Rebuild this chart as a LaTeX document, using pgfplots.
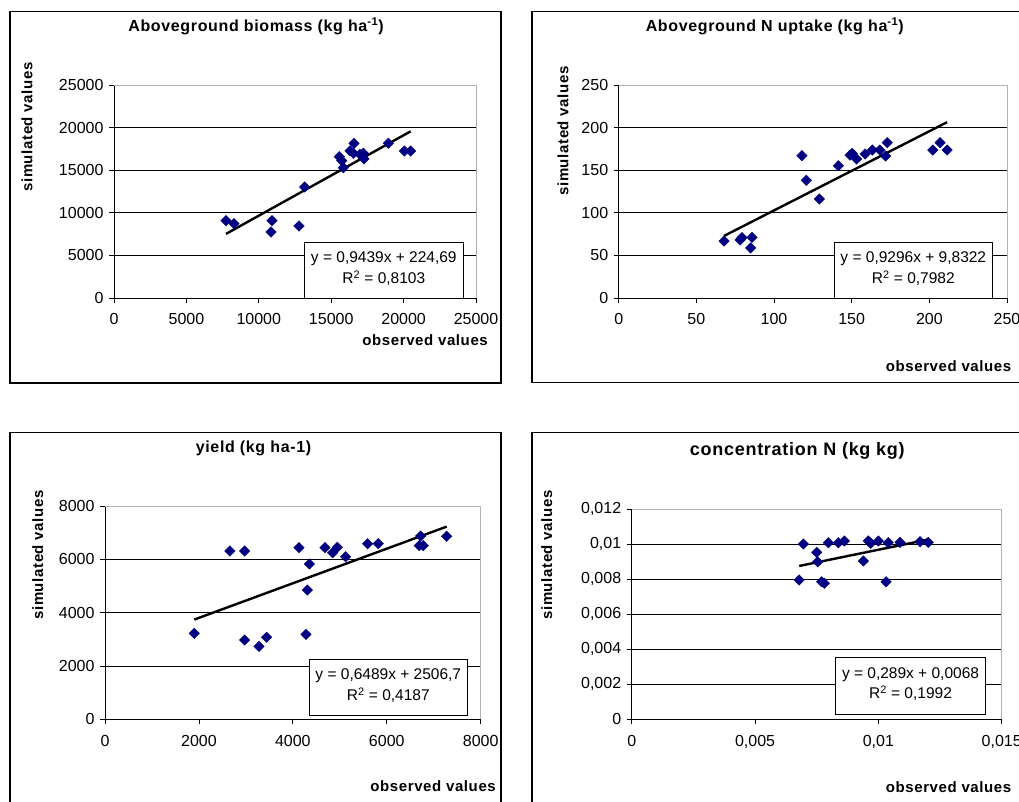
\documentclass[border=0pt]{standalone}
\usepackage{fontspec}
\setmainfont{Liberation Sans}
\newfontfamily\lblfont[LetterSpace=4]{Liberation Sans}
\usepackage{pgfplots}
\pgfplotsset{compat=1.18}
\definecolor{navy}{RGB}{0,0,128}

\newcommand\lbl{\fontsize{15}{15}\selectfont\lblfont\bfseries}
\newcommand\ttl{\fontsize{16}{16}\selectfont\lblfont\bfseries}
\newcommand\eqf{\fontsize{15.5}{15.5}\selectfont}

\pgfplotsset{
  panel/.style={
    scale only axis, anchor=south west,
    axis x line*=bottom, axis y line*=left,
    axis line style={line width=1pt,-},
    tick align=outside, major tick length=5pt,
    tick style={black,line width=0.8pt},
    ymajorgrids, grid style={black,line width=0.8pt},
    scaled ticks=false,
    tick label style={font=\fontsize{16}{16}\selectfont},
    xticklabel style={yshift=-7pt},
    yticklabel style={xshift=-2pt},
    /pgf/number format/assume math mode=true,
    /pgf/number format/1000 sep={},
    clip=false,
  },
  dots/.style={only marks, mark=square*, mark size=3.7pt, color=navy, mark options={rotate=45}},
  fit/.style={no marks, black, line width=2.4pt},
}

\begin{document}
\begin{tikzpicture}
\useasboundingbox (0pt,0pt) rectangle (1019pt,-801pt);
\fill[white] (0pt,0pt) rectangle (1019pt,-801pt);
\clip (0pt,0pt) rectangle (1019pt,-801pt);

% panel frames
\draw[line width=1.2pt] (10pt,-11.7pt) rectangle (501pt,-383pt);
\draw[line width=1.2pt] (532pt,-11.7pt) rectangle (1040pt,-382.7pt);
\draw[line width=1.2pt] (10pt,-432.7pt) rectangle (501pt,-820pt);
\draw[line width=1.2pt] (532pt,-432.7pt) rectangle (1040pt,-820pt);

% aboveground biomass
\begin{axis}[panel, at={(114pt,-298pt)}, width=362pt, height=213pt,
  xmin=0, xmax=25000, ymin=0, ymax=25000,
  xtick={0,5000,...,25000}, ytick={0,5000,...,25000}]
\draw[gray!60,line width=1pt] (rel axis cs:0,1) -- (rel axis cs:1,1) -- (rel axis cs:1,0);
\addplot[dots] coordinates {
  (7735,9075) (8287,8725) (10842,7748) (10911,9075) (12776,8453)
  (13170,13031) (15561,16590) (15725,16120) (15838,15300) (16298,17258)
  (16528,16990) (16574,18160) (16990,16850) (17218,16990) (17265,16320)
  (18945,18160) (20050,17258) (20490,17258)
};
\addplot[fit] coordinates {(7735,7526) (20490,19565)};
\end{axis}

% aboveground N uptake
\begin{axis}[panel, at={(618.7pt,-298pt)}, width=388.3pt, height=213pt,
  xmin=0, xmax=250, ymin=0, ymax=250,
  xtick={0,50,...,250}, ytick={0,50,...,250}]
\draw[gray!60,line width=1pt] (rel axis cs:0,1) -- (rel axis cs:1,1) -- (rel axis cs:1,0);
\addplot[dots] coordinates {
  (67.8,66.9) (78.1,68.1) (79.4,70.8) (85.8,71.2) (85.0,58.7)
  (118.0,167.0) (120.8,138.1) (129.2,116.2) (141.4,155.3) (148.9,167.8)
  (150.4,169.8) (153.2,163.1) (158.6,169.0) (163.3,173.7) (168.2,173.7)
  (172.9,182.3) (171.9,166.7) (202.2,173.7) (206.9,182.3) (211.4,173.7)
};
\addplot[fit] coordinates {(67.8,72.86) (211.4,206.35)};
\end{axis}

% yield
\begin{axis}[panel, at={(105pt,-719.3pt)}, width=375.7pt, height=213.3pt,
  xmin=0, xmax=8000, ymin=0, ymax=8000,
  xtick={0,2000,...,8000}, ytick={0,2000,...,8000}]
\draw[gray!60,line width=1pt] (rel axis cs:0,1) -- (rel axis cs:1,1) -- (rel axis cs:1,0);
\addplot[dots] coordinates {
  (1901,3226) (2661,6313) (2974,6313) (2974,2975) (3279,2738)
  (3442,3076) (4130,6437) (4350,5825) (4307,4850) (4279,3188)
  (4684,6437) (4848,6249) (4946,6452) (5124,6099) (5593,6587)
  (5819,6587) (6692,6512) (6777,6512) (6721,6876) (7275,6864)
};
\addplot[fit] coordinates {(1901,3740.3) (7275,7227.4)};
\end{axis}

% concentration N
\begin{axis}[panel, at={(631.7pt,-719.3pt)}, width=370pt, height=210pt,
  xmin=0, xmax=0.015, ymin=0, ymax=0.012,
  xtick={0,0.005,0.01,0.015}, ytick={0,0.002,0.004,0.006,0.008,0.01,0.012},
  /pgf/number format/.cd, use comma, fixed, precision=3]
\draw[gray!60,line width=1pt] (rel axis cs:0,1) -- (rel axis cs:1,1) -- (rel axis cs:1,0);
\addplot[dots] coordinates {
  (0.00679,0.00796) (0.00696,0.01002) (0.00750,0.00954) (0.00754,0.00900)
  (0.00770,0.00786) (0.00781,0.00777) (0.00797,0.01009) (0.00838,0.01009)
  (0.00862,0.01019) (0.00939,0.00905) (0.00959,0.01019) (0.00969,0.01006)
  (0.01000,0.01019) (0.01031,0.00786) (0.01040,0.01009) (0.01088,0.01011)
  (0.01169,0.01015) (0.01202,0.01011)
};
\addplot[fit] coordinates {(0.00679,0.008762) (0.01202,0.010274)};
\end{axis}

% titles
\node[anchor=base] at (256pt,-31.3pt) {\ttl Aboveground biomass (kg ha\textsuperscript{-1})};
\node[anchor=base] at (774.7pt,-31.3pt) {\ttl Aboveground N uptake (kg ha\textsuperscript{-1})};
\node[anchor=base] at (253.5pt,-452pt) {\ttl yield (kg ha-1)};
\node[anchor=base] at (797.3pt,-455pt) {\fontsize{18}{18}\selectfont\lblfont\bfseries concentration N (kg kg)};

% axis labels
\node[rotate=90] at (27pt,-127pt) {\lbl simulated values};
\node[rotate=90] at (563pt,-131pt) {\lbl simulated values};
\node[rotate=90] at (37.7pt,-555pt) {\lbl simulated values};
\node[rotate=90] at (546.7pt,-555pt) {\lbl simulated values};
\node[anchor=base east, inner sep=0pt] at (488pt,-345.5pt) {\lbl observed values};
\node[anchor=base west, inner sep=0pt] at (885.7pt,-371pt) {\lbl observed values};
\node[anchor=base east, inner sep=0pt] at (496pt,-791pt) {\lbl observed values};
\node[anchor=base west, inner sep=0pt] at (885.7pt,-792pt) {\lbl observed values};

% regression boxes
\draw[fill=white,line width=0.9pt] (304.3pt,-242.3pt) rectangle (463.3pt,-298pt);
\node[anchor=base] at (383.8pt,-262.2pt) {\eqf y = 0,9439x + 224,69};
\node[anchor=base] at (383.8pt,-283.8pt) {\eqf R\textsuperscript{2} = 0,8103};
\draw[fill=white,line width=0.9pt] (834.3pt,-242.3pt) rectangle (992.3pt,-298pt);
\node[anchor=base] at (913.3pt,-262.2pt) {\eqf y = 0,9296x + 9,8322};
\node[anchor=base] at (913.3pt,-283.8pt) {\eqf R\textsuperscript{2} = 0,7982};
\draw[fill=white,line width=0.9pt] (309.3pt,-659pt) rectangle (467.3pt,-715.3pt);
\node[anchor=base] at (388.3pt,-679.5pt) {\eqf y = 0,6489x + 2506,7};
\node[anchor=base] at (388.3pt,-700.8pt) {\eqf R\textsuperscript{2} = 0,4187};
\draw[fill=white,line width=0.9pt] (835.7pt,-657.7pt) rectangle (985.3pt,-714pt);
\node[anchor=base] at (910.5pt,-678.8pt) {\eqf y = 0,289x + 0,0068};
\node[anchor=base] at (910.5pt,-698.8pt) {\eqf R\textsuperscript{2} = 0,1992};
\end{tikzpicture}
\end{document}
